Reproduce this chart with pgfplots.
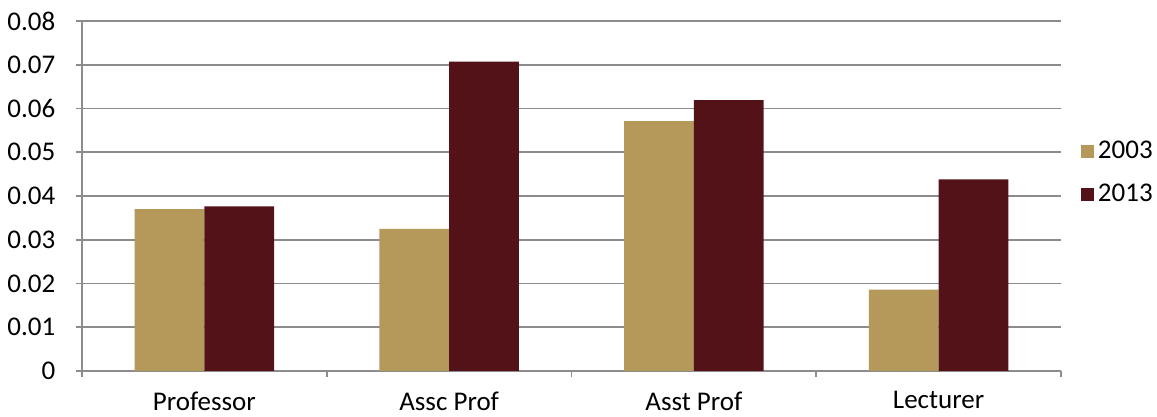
\documentclass[border=0pt]{standalone}
\usepackage{fontspec}
\setmainfont{Carlito}
\usepackage{pgfplots}
\pgfplotsset{compat=1.18}
\definecolor{c03}{HTML}{B5995B}
\definecolor{c13}{HTML}{521217}
\definecolor{gridc}{HTML}{8C8C8C}
\begin{document}
\begin{tikzpicture}
\begin{axis}[
  scale only axis, width=489.5pt, height=175pt,
  xmin=-0.5, xmax=3.5, ymin=0, ymax=0.08,
  scaled y ticks=false,
  ybar=0pt, bar width=0.285,
  axis x line*=bottom, axis y line*=left,
  axis line style={gridc, line width=0.8pt},
  xtick={0,1,2,3},
  xticklabels={Professor,Assc Prof,Asst Prof,Lecturer},
  minor xtick={-0.5,0.5,1.5,2.5,3.5},
  major x tick style={draw=none},
  minor x tick style={gridc, line width=0.8pt},
  minor tick length=2.8pt,
  ytick={0,0.01,0.02,0.03,0.04,0.05,0.06,0.07,0.08},
  yticklabels={0,0.01,0.02,0.03,0.04,0.05,0.06,0.07,0.08},
  major y tick style={gridc, line width=0.8pt},
  major tick length=2.8pt,
  tick align=outside,
  ymajorgrids, grid style={gridc, line width=0.9pt},
  tick label style={font=\fontsize{13.5}{16}\selectfont, text=black},
  xticklabel style={yshift=-4pt},
  yticklabel style={xshift=-7pt},
  legend style={at={(rel axis cs:1.020,0.566)}, anchor=west, draw=none, fill=none,
    inner sep=0pt, row sep=7pt, font=\fontsize{13.5}{16}\selectfont},
  legend cell align=left,
  legend image code/.code={\fill[#1] (-1.5pt,-3.25pt) rectangle (5pt,3.25pt);},
]
\addplot[fill=c03, draw=none] coordinates {(0,0.0370) (1,0.0325) (2,0.0571) (3,0.0186)};
\addplot[fill=c13, draw=none] coordinates {(0,0.0376) (1,0.0707) (2,0.0619) (3,0.0438)};
\legend{2003,2013}
\end{axis}
\pgfresetboundingbox
\path (-41pt,-23pt) rectangle (537.5pt,185.5pt);
\end{tikzpicture}
\end{document}
